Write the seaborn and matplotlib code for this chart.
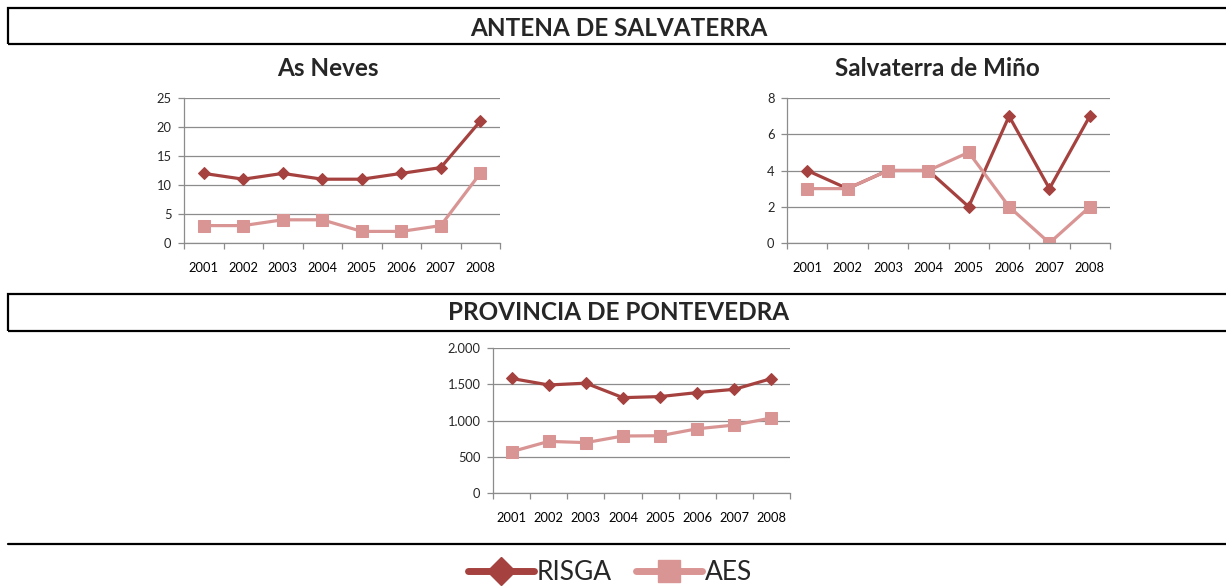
import matplotlib
matplotlib.use("Agg")
import matplotlib.pyplot as plt
import seaborn as sns
import pandas as pd
from matplotlib.lines import Line2D
from matplotlib.patches import Rectangle

years = ["2001", "2002", "2003", "2004", "2005", "2006", "2007", "2008"]

neves_risga = [12, 11, 12, 11, 11, 12, 13, 21]
neves_aes = [3, 3, 4, 4, 2, 2, 3, 12]

salva_risga = [4, 3, 4, 4, 2, 7, 3, 7]
salva_aes = [3, 3, 4, 4, 5, 2, 0, 2]

ponte_risga = [1580, 1490, 1515, 1315, 1330, 1385, 1430, 1578]
ponte_aes = [570, 712, 695, 786, 790, 886, 937, 1035]

neves_ticks = [0, 5, 10, 15, 20, 25]
salva_ticks = [0, 2, 4, 6, 8]
ponte_ticks = [0, 500, 1000, 1500, 2000]
ponte_tick_labels = ["0", "500", "1.000", "1.500", "2.000"]

RISGA_COLOR = "#A5423F"
AES_COLOR = "#D99594"
GRID_COLOR = "#8C8C8C"

sns.set_theme(style="white")
plt.rcParams["font.family"] = ["Lato", "DejaVu Sans"]

W, H = 1226, 588
fig = plt.figure(figsize=(W / 100, H / 100), dpi=100)


def fx(px):
    return px / W


def fy(py):
    return 1 - py / H


def draw_panel(rect, risga, aes, ticks, tick_labels=None):
    ax = fig.add_axes(rect)
    df = pd.DataFrame({"year": years, "RISGA": risga, "AES": aes})
    sns.lineplot(data=df, x="year", y="RISGA", ax=ax, color=RISGA_COLOR,
                 lw=2.3, marker="D", markersize=6.5, markeredgecolor=RISGA_COLOR)
    sns.lineplot(data=df, x="year", y="AES", ax=ax, color=AES_COLOR,
                 lw=2.3, marker="s", markersize=9, markeredgecolor=AES_COLOR)
    ax.set_xlim(-0.5, len(years) - 0.5)
    ax.set_ylim(ticks[0], ticks[-1])
    ax.set_yticks(ticks)
    if tick_labels is not None:
        ax.set_yticklabels(tick_labels)
    ax.set_xlabel("")
    ax.set_ylabel("")
    ax.yaxis.grid(True, color=GRID_COLOR, lw=0.9)
    ax.set_axisbelow(True)
    for s in ["top", "right"]:
        ax.spines[s].set_visible(False)
    for s in ["left", "bottom"]:
        ax.spines[s].set_color(GRID_COLOR)
        ax.spines[s].set_linewidth(0.9)
    ax.set_xticks([i - 0.5 for i in range(len(years) + 1)], minor=True)
    ax.tick_params(axis="x", which="major", length=0, labelsize=9.3, pad=14,
                   colors="black")
    ax.tick_params(axis="x", which="minor", length=4, color=GRID_COLOR,
                   width=0.9, direction="out", bottom=True)
    ax.tick_params(axis="y", length=4, color=GRID_COLOR, width=0.9,
                   labelsize=9.3, left=True, pad=5)
    return ax


draw_panel([fx(184), fy(243), fx(500) - fx(184), fy(98) - fy(243)],
           neves_risga, neves_aes, neves_ticks)
draw_panel([fx(787), fy(243), fx(1110) - fx(787), fy(98) - fy(243)],
           salva_risga, salva_aes, salva_ticks)
draw_panel([fx(493), fy(493), fx(790) - fx(493), fy(348) - fy(493)],
           ponte_risga, ponte_aes, ponte_ticks, ponte_tick_labels)

# header boxes (open on the right, running off the page)
for top, bottom in [(7.5, 44), (294, 330.5)]:
    fig.patches.append(Rectangle((fx(8), fy(bottom)), fx(1240) - fx(8),
                                 fy(top) - fy(bottom), transform=fig.transFigure,
                                 fill=False, edgecolor="black", lw=1.6,
                                 clip_on=False))

title_kw = dict(ha="center", va="baseline", fontsize=17.5, fontweight="bold")
fig.text(fx(619), fy(36), "ANTENA DE SALVATERRA", **title_kw)
fig.text(fx(328), fy(76), "As Neves", **title_kw)
fig.text(fx(937), fy(76), "Salvaterra de Miño", **title_kw)
fig.text(fx(619), fy(320), "PROVINCIA DE PONTEVEDRA", **title_kw)

fig.add_artist(Line2D([fx(8), 1], [fy(544), fy(544)], transform=fig.transFigure,
                      color="black", lw=1.6))

handles = [
    Line2D([], [], color=RISGA_COLOR, lw=5, marker="D", markersize=14,
           solid_capstyle="round"),
    Line2D([], [], color=AES_COLOR, lw=5, marker="s", markersize=16,
           solid_capstyle="round"),
]
fig.legend(handles, ["RISGA", "AES"], loc="center", ncol=2, frameon=False,
           bbox_to_anchor=(fx(610), fy(573)), fontsize=19, handlelength=2.5,
           handletextpad=0.1, columnspacing=0.9)

fig.savefig("out.png", dpi=100)
